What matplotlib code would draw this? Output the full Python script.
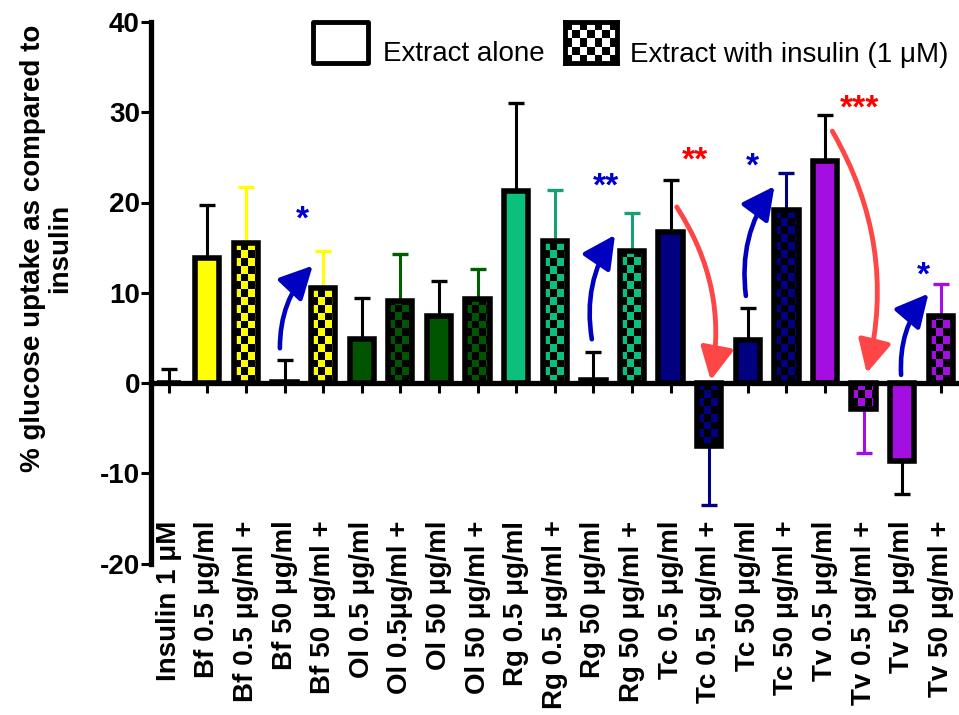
import numpy as np
import matplotlib
matplotlib.use("Agg")
import matplotlib.pyplot as plt
from matplotlib.colors import ListedColormap
from matplotlib.patches import Rectangle, FancyArrowPatch

plt.rcParams['font.family'] = ['Liberation Sans', 'DejaVu Sans']

# ---------------- data ----------------
labels = ["Insulin 1 \u03bcM", "Bf 0.5 \u03bcg/ml", "Bf 0.5 \u03bcg/ml +", "Bf 50 \u03bcg/ml",
          "Bf 50 \u03bcg/ml +", "Ol 0.5 \u03bcg/ml", "Ol 0.5\u03bcg/ml +", "Ol 50 \u03bcg/ml",
          "Ol 50 \u03bcg/ml +", "Rg 0.5 \u03bcg/ml", "Rg 0.5 \u03bcg/ml +", "Rg 50 \u03bcg/ml",
          "Rg 50 \u03bcg/ml +", "Tc 0.5 \u03bcg/ml", "Tc 0.5 \u03bcg/ml +", "Tc 50 \u03bcg/ml",
          "Tc 50 \u03bcg/ml +", "Tv 0.5 \u03bcg/ml", "Tv 0.5 \u03bcg/ml +", "Tv 50 \u03bcg/ml",
          "Tv 50 \u03bcg/ml +"]
values = [0.0, 13.8, 15.5, 0.1, 10.5, 4.85, 9.05, 7.45, 9.3, 21.3, 15.7, 0.3, 14.65,
          16.7, -7.0, 4.8, 19.2, 24.65, -2.9, -8.6, 7.45]
errors = [1.5, 5.9, 6.2, 2.5, 4.1, 4.6, 5.2, 3.8, 3.35, 9.7, 5.7, 3.1, 4.15,
          5.75, 6.5, 3.55, 4.05, 5.0, 4.85, 3.75, 3.5]
with_insulin = [False, False, True, False, True, False, True, False, True, False, True,
                False, True, False, True, False, True, False, True, False, True]
face_colors = ["#ffffff", "#ffff00", "#ffff00", "#ffff00", "#ffff00", "#005500", "#005500",
               "#005500", "#005500", "#0bbf7d", "#0bbf7d", "#0bbf7d", "#0bbf7d",
               "#000080", "#000080", "#000080", "#000080", "#a30fe0", "#a30fe0",
               "#a30fe0", "#a30fe0"]
err_colors = ["black", "black", "#ffff00", "black", "#ffff00", "black", "#006000",
              "black", "#006000", "black", "#17a077", "black", "#17a077",
              "black", "#000080", "black", "#000080", "black", "#a30fe0",
              "black", "#a30fe0"]

# significance arrows: (start x, start y, end x, end y)
arrows_up = [(2.88, 3.85, 3.73, 13.0), (10.96, 4.85, 11.56, 16.4),
             (14.95, 9.65, 15.69, 21.8), (18.97, 0.9, 19.68, 9.9)]
arrows_down = [(13.16, 19.5, 14.04, 0.3), (17.19, 27.9, 18.08, 1.1)]
stars_up = [("*", 3.46, 18.1), ("**", 11.32, 21.7), ("*", 15.12, 23.9), ("*", 19.55, 11.9)]
stars_down = [("**", 13.63, 24.6), ("***", 17.89, 30.3)]

# ---------------- figure ----------------
W, H = 959, 715
fig = plt.figure(figsize=(W / 100, H / 100), dpi=100)
ax = fig.add_axes([151 / W, 1 - 563.5 / H, (W - 151) / W, (563.5 - 22) / H])

for sp in ['top', 'right']:
    ax.spines[sp].set_visible(False)
ax.spines['bottom'].set_position(('data', 0))
ax.spines['bottom'].set_linewidth(3.8)
ax.spines['left'].set_linewidth(3.8)
ax.spines['bottom'].set_zorder(3.5)

x = np.arange(len(values))
bar_w = 0.63
edge_lw = 4.0

# error bars (one direction: away from zero)
for i in range(len(values)):
    v, e = values[i], errors[i]
    yerr = [[e], [0]] if v < 0 else [[0], [e]]
    ax.errorbar(x[i], v, yerr=yerr, fmt='none', ecolor=err_colors[i],
                elinewidth=2.2, capsize=6, capthick=2.4, zorder=1.5)

bars = ax.bar(x, values, width=bar_w, color=face_colors, linewidth=0, zorder=2)

# checkerboard fill for "extract with insulin" bars
cw = 6.7 / 38.6
ch = 7.8 / 9.02
for i, b in enumerate(bars):
    if not with_insulin[i]:
        continue
    x0 = b.get_x()
    h = values[i]
    nx = int(np.ceil(bar_w / cw)) + 1
    ny = int(np.ceil(abs(h) / ch)) + 1
    arr = (np.add.outer(np.arange(ny), np.arange(nx)) % 2).astype(float)
    cmap = ListedColormap(["black", face_colors[i]])
    if h >= 0:
        ext = [x0, x0 + nx * cw, 0, ny * ch]
    else:
        ext = [x0, x0 + nx * cw, -ny * ch, 0]
    im = ax.imshow(arr, cmap=cmap, vmin=0, vmax=1, extent=ext, origin='lower',
                   aspect='auto', interpolation='nearest', zorder=2.2)
    im.set_clip_path(b)

ax.bar(x, values, width=bar_w, fill=False, edgecolor='black', linewidth=edge_lw,
       joinstyle='miter', zorder=3)

# arrows
for (xs, ys, xe, ye) in arrows_up:
    ax.add_patch(FancyArrowPatch((xs, ys), (xe, ye), connectionstyle="arc3,rad=-0.2",
                                 arrowstyle="-|>,head_length=0.55,head_width=0.28",
                                 mutation_scale=36, color="#0000c0", linewidth=3.3,
                                 shrinkA=0, shrinkB=0, capstyle='round', zorder=4))
for (xs, ys, xe, ye) in arrows_down:
    ax.add_patch(FancyArrowPatch((xs, ys), (xe, ye), connectionstyle="arc3,rad=-0.2",
                                 arrowstyle="-|>,head_length=0.55,head_width=0.28",
                                 mutation_scale=36, color="#ff4646", linewidth=3.5,
                                 shrinkA=0, shrinkB=0, capstyle='round', zorder=4))
for s, sx, sy in stars_up:
    ax.text(sx, sy, s, color="#0000cc", fontsize=24, fontweight='bold',
            ha='center', va='center', zorder=5)
for s, sx, sy in stars_down:
    ax.text(sx, sy, s, color="#ff0000", fontsize=24, fontweight='bold',
            ha='center', va='center', zorder=5)

# axes styling
ax.set_xlim(-0.458, 20.47)
ax.set_ylim(-20, 40)
ax.set_yticks([-20, -10, 0, 10, 20, 30, 40])
ax.set_yticklabels(["-20", "-10", "0", "10", "20", "30", "40"], fontweight='bold')
ax.set_xticks(x)
ax.set_xticklabels(labels, fontweight='bold')
ax.tick_params(axis='y', length=7, width=2.2, pad=1, labelsize=20)
ax.tick_params(axis='x', length=7, width=2.2, pad=92, labelsize=20, labelrotation=90)
ax.patch.set_visible(False)

fig.text(46.5 / W, 1 - 248 / H, "% glucose uptake as compared to\ninsulin",
         rotation=90, ha='center', va='center', fontsize=20, fontweight='bold',
         linespacing=1.05, multialignment='center')

# legend (manual)
fig.add_artist(Rectangle((313 / W, 1 - 63 / H), 55 / W, 41 / H, transform=fig.transFigure,
                         facecolor='white', edgecolor='black', linewidth=3.5,
                         joinstyle='round'))
fig.text(383 / W, 1 - 61 / H, "Extract alone", fontsize=20, ha='left', va='baseline')
lax = fig.add_axes([565 / W, 1 - 63 / H, 52 / W, 41 / H])
lax.imshow((np.add.outer(np.arange(5), np.arange(7)) % 2),
           cmap=ListedColormap(["black", "white"]),
           aspect='auto', interpolation='nearest')
lax.set_xticks([])
lax.set_yticks([])
for sp in lax.spines.values():
    sp.set_linewidth(3.5)
fig.text(630 / W, 1 - 62 / H, "Extract with insulin (1 \u03bcM)", fontsize=20, ha='left',
         va='baseline')

fig.savefig("out.png", dpi=100)
